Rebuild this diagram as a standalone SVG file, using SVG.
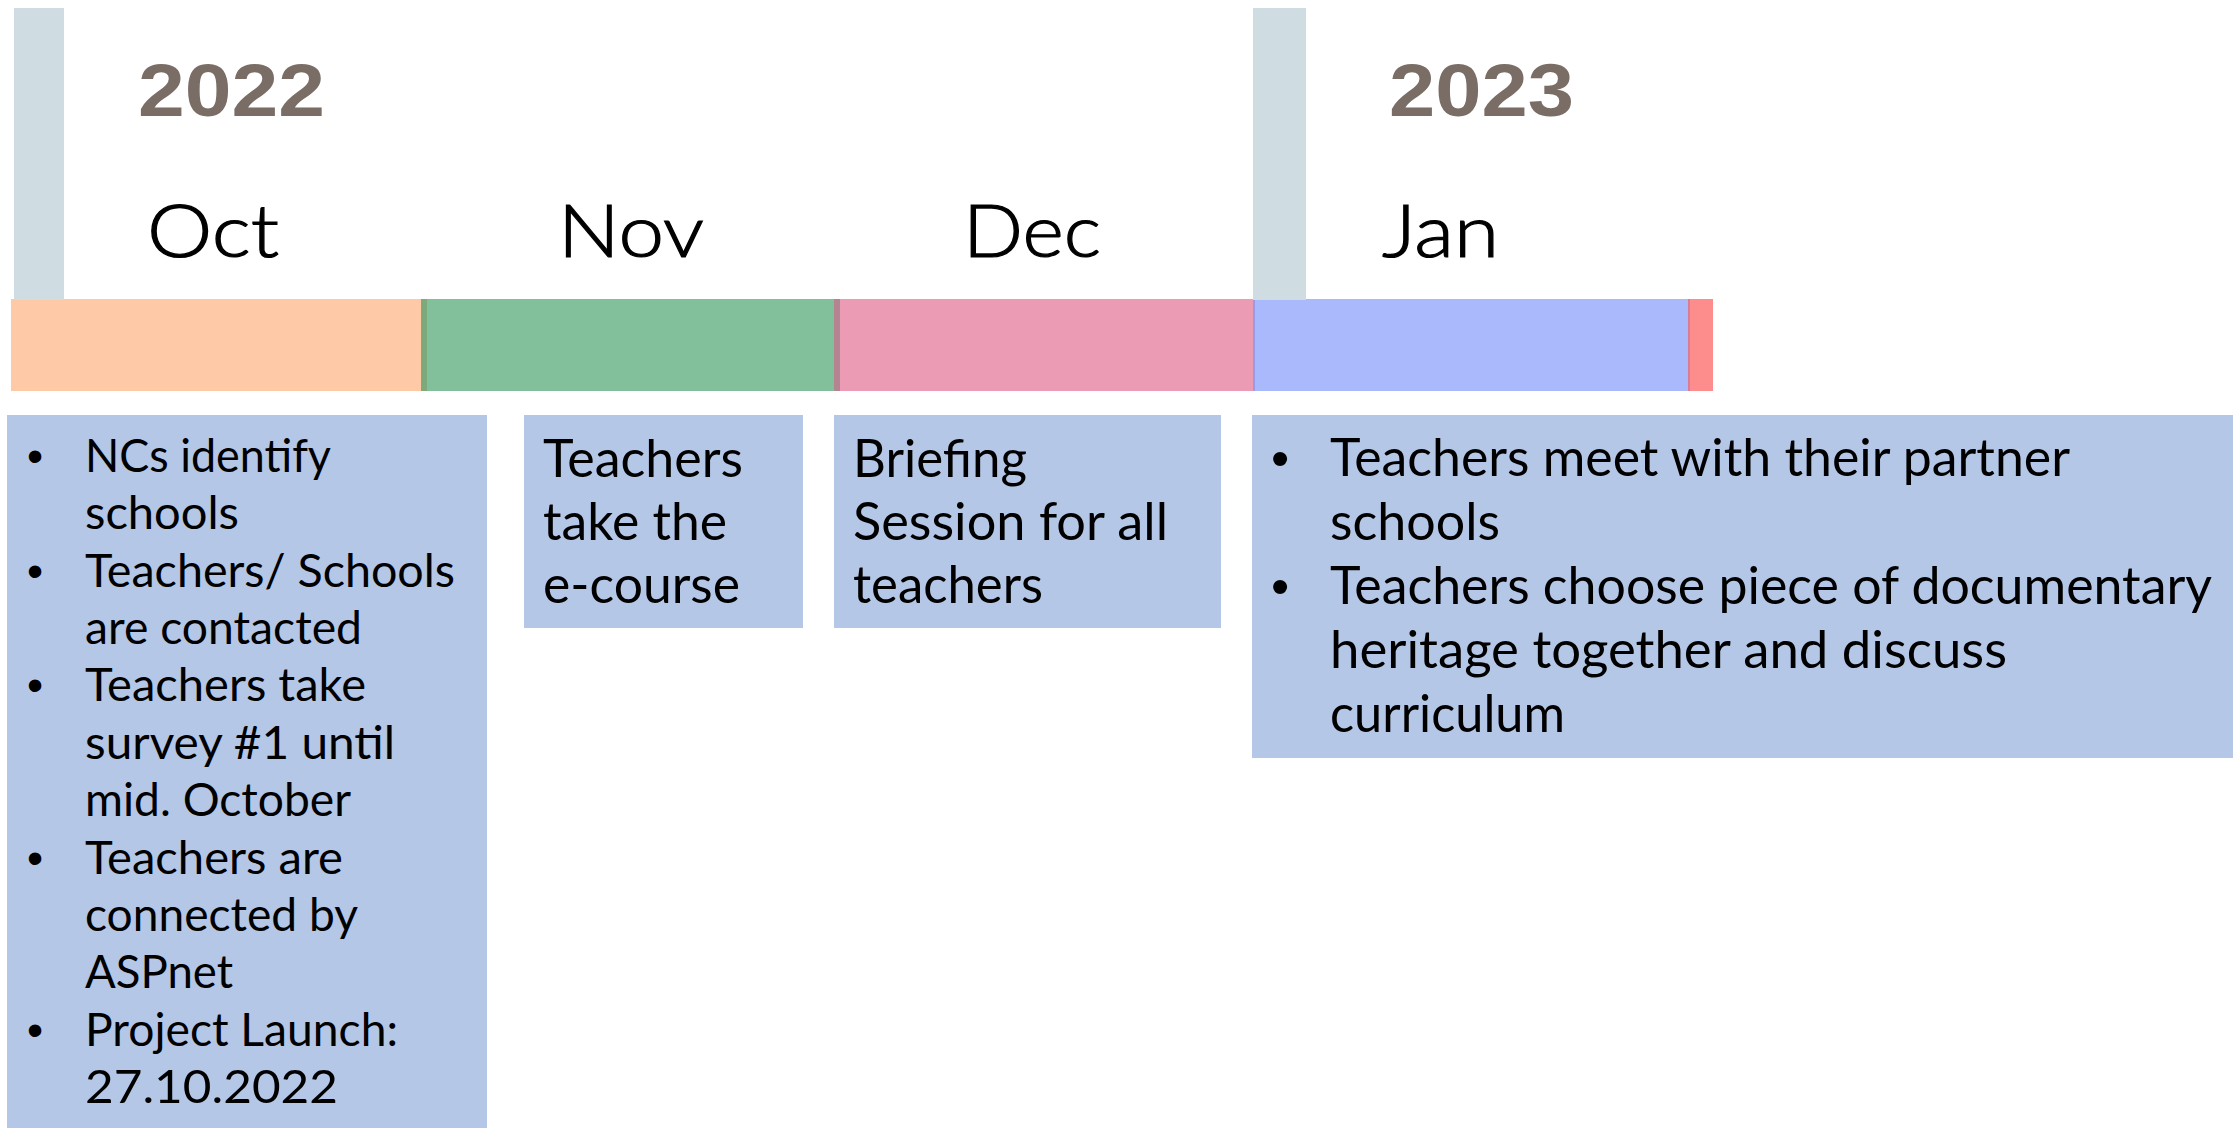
<svg xmlns="http://www.w3.org/2000/svg" width="2233" height="1128" viewBox="0 0 2233 1128">
<style>
.yr{font-family:"Liberation Sans",Arial,sans-serif;font-weight:bold;font-size:75px;fill:#7a6d65}
.mo{font-family:"Lato","Open Sans",sans-serif;font-weight:300;font-size:73px;fill:#000;stroke:#000;stroke-width:1.2px}
.box{fill:#b4c7e7}
.t1{font-family:"Lato","Noto Sans",sans-serif;font-size:47px;fill:#000}
.t2{font-family:"Lato","Noto Sans",sans-serif;font-size:52px;fill:#000}
.b1{font-family:"Liberation Sans",Arial,sans-serif;font-size:46px;fill:#000}
.b2{font-family:"Liberation Sans",Arial,sans-serif;font-size:52px;fill:#000}
.mark{fill:#cfdde3}
</style>
<rect width="2233" height="1128" fill="#fff"/>
<g id="timeline-bar">
<rect x="11" y="299" width="410" height="92" fill="#fdc9a6"/>
<rect x="421" y="299" width="6" height="92" fill="#7ea97a"/>
<rect x="427" y="299" width="407" height="92" fill="#82c09c"/>
<rect x="834" y="299" width="6" height="92" fill="#b48590"/>
<rect x="840" y="299" width="413" height="92" fill="#ec9bb5"/>
<rect x="1253" y="299" width="2" height="92" fill="#9a9be8"/>
<rect x="1255" y="299" width="433" height="92" fill="#a9b9fc"/>
<rect x="1688" y="299" width="2" height="92" fill="#d87c98"/>
<rect x="1690" y="299" width="23" height="92" fill="#fd8c8c"/>
</g>
<g id="year-2022">
<rect class="mark" x="14" y="8" width="50" height="292"/>
<text class="yr" x="138" y="116" textLength="187" lengthAdjust="spacingAndGlyphs">2022</text>
</g>
<g id="year-2023">
<rect class="mark" x="1253" y="8" width="53" height="292"/>
<text class="yr" x="1389" y="116" textLength="185" lengthAdjust="spacingAndGlyphs">2023</text>
</g>
<g id="months">
<text class="mo" x="147" y="257" textLength="132" lengthAdjust="spacingAndGlyphs">Oct</text>
<text class="mo" x="558" y="257" textLength="146" lengthAdjust="spacingAndGlyphs">Nov</text>
<text class="mo" x="963" y="257" textLength="138" lengthAdjust="spacingAndGlyphs">Dec</text>
<text class="mo" x="1382" y="257" textLength="117" lengthAdjust="spacingAndGlyphs">Jan</text>
</g>
<g id="connectors"></g>
<g id="box-oct">
<rect class="box" x="7" y="415" width="480" height="713"/>
<text class="b1" x="27" y="472">•</text>
<text class="b1" x="27" y="586.7">•</text>
<text class="b1" x="27" y="701.4">•</text>
<text class="b1" x="27" y="873.5">•</text>
<text class="b1" x="27" y="1045.6">•</text>
<text class="t1" x="85" y="472" textLength="246" lengthAdjust="spacingAndGlyphs">NCs identify</text>
<text class="t1" x="85" y="529.4" textLength="154" lengthAdjust="spacingAndGlyphs">schools</text>
<text class="t1" x="85" y="586.7" textLength="370" lengthAdjust="spacingAndGlyphs">Teachers/ Schools</text>
<text class="t1" x="85" y="644.1" textLength="277" lengthAdjust="spacingAndGlyphs">are contacted</text>
<text class="t1" x="85" y="701.4" textLength="281" lengthAdjust="spacingAndGlyphs">Teachers take</text>
<text class="t1" x="85" y="758.8" textLength="310" lengthAdjust="spacingAndGlyphs">survey #1 until</text>
<text class="t1" x="85" y="816.2" textLength="266" lengthAdjust="spacingAndGlyphs">mid. October</text>
<text class="t1" x="85" y="873.5" textLength="258" lengthAdjust="spacingAndGlyphs">Teachers are</text>
<text class="t1" x="85" y="930.9" textLength="273" lengthAdjust="spacingAndGlyphs">connected by</text>
<text class="t1" x="85" y="988.3" textLength="148" lengthAdjust="spacingAndGlyphs">ASPnet</text>
<text class="t1" x="85" y="1045.6" textLength="313" lengthAdjust="spacingAndGlyphs">Project Launch:</text>
<text class="t1" x="85" y="1103" textLength="253" lengthAdjust="spacingAndGlyphs">27.10.2022</text>
</g>
<g id="box-nov">
<rect class="box" x="524" y="415" width="279" height="213"/>
<text class="t2" x="543" y="477" textLength="200" lengthAdjust="spacingAndGlyphs">Teachers</text>
<text class="t2" x="543" y="540" textLength="184" lengthAdjust="spacingAndGlyphs">take the</text>
<text class="t2" x="543" y="603" textLength="197" lengthAdjust="spacingAndGlyphs">e-course</text>
</g>
<g id="box-dec">
<rect class="box" x="834" y="415" width="387" height="213"/>
<text class="t2" x="853" y="477" textLength="174" lengthAdjust="spacingAndGlyphs">Briefing</text>
<text class="t2" x="853" y="540" textLength="315" lengthAdjust="spacingAndGlyphs">Session for all</text>
<text class="t2" x="853" y="603" textLength="190" lengthAdjust="spacingAndGlyphs">teachers</text>
</g>
<g id="box-jan">
<rect class="box" x="1252" y="415" width="981" height="343"/>
<text class="b2" x="1271" y="476">•</text>
<text class="b2" x="1271" y="604">•</text>
<text class="t2" x="1330" y="476" textLength="740" lengthAdjust="spacingAndGlyphs">Teachers meet with their partner</text>
<text class="t2" x="1330" y="540" textLength="170" lengthAdjust="spacingAndGlyphs">schools</text>
<text class="t2" x="1330" y="604" textLength="882" lengthAdjust="spacingAndGlyphs">Teachers choose piece of documentary</text>
<text class="t2" x="1330" y="668" textLength="677" lengthAdjust="spacingAndGlyphs">heritage together and discuss</text>
<text class="t2" x="1330" y="732" textLength="235" lengthAdjust="spacingAndGlyphs">curriculum</text>
</g>
</svg>
